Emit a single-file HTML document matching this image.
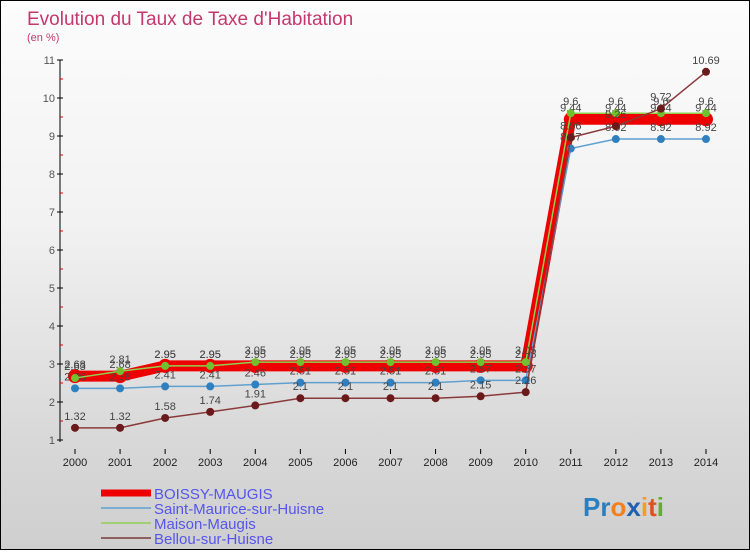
<!DOCTYPE html>
<html><head><meta charset="utf-8"><style>
body{margin:0;width:750px;height:550px;overflow:hidden;font-family:"Liberation Sans",sans-serif}
#wrap{position:relative;width:748px;height:548px;border:1px solid #000;background:linear-gradient(#fcfcfc 0%,#f2f2f2 40%,#d8d8d8 80%,#cfcfcf 100%)}
</style></head><body>
<div id="wrap">
<svg id="chart" width="748" height="548" xmlns="http://www.w3.org/2000/svg">
<text x="26" y="24" font-size="19" fill="#c4386c">Evolution du Taux de Taxe d'Habitation</text>
<text x="26" y="40" font-size="11" fill="#c4386c">(en %)</text>
<g id="axes"></g><g id="series"></g><g id="legend"></g>
<g font-size="26" font-weight="bold">
<text x="582" y="515"><tspan fill="#2a7fc0">Pr</tspan><tspan fill="#f08020">o</tspan><tspan fill="#2060b0">x</tspan><tspan fill="#f0a020">i</tspan><tspan fill="#e05020">t</tspan><tspan fill="#60b030">i</tspan></text>
</g>
</svg></div>
<script>
const years=[2000,2001,2002,2003,2004,2005,2006,2007,2008,2009,2010,2011,2012,2013,2014];
const yTicks=[1,2,3,4,5,6,7,8,9,10,11];
const boissy=[2.68,2.68,2.95,2.95,2.95,2.95,2.95,2.95,2.95,2.95,2.95,9.44,9.44,9.44,9.44];
const stMaurice=[2.36,2.36,2.41,2.41,2.46,2.51,2.51,2.51,2.51,2.57,2.57,8.67,8.92,8.92,8.92];
const maison=[2.63,2.81,2.95,2.95,3.05,3.05,3.05,3.05,3.05,3.05,3.05,9.6,9.6,9.6,9.6];
const bellou=[1.32,1.32,1.58,1.74,1.91,2.1,2.1,2.1,2.1,2.15,2.26,8.96,9.26,9.72,10.69];
const seriesNames=["BOISSY-MAUGIS","Saint-Maurice-sur-Huisne","Maison-Maugis","Bellou-sur-Huisne"];
const NS="http://www.w3.org/2000/svg";
function X(i){return 74+i*(705-74)/(years.length-1);}
function Y(v){return 439-(v-1)*38;}
function mk(t,a,p){const e=document.createElementNS(NS,t);for(const k in a)e.setAttribute(k,a[k]);p.appendChild(e);return e;}
const ax=document.getElementById('axes');
let l=mk('line',{x1:59,y1:Y(11),x2:59,y2:Y(1)+2,stroke:'#000'},ax);


yTicks.forEach(v=>{
 let t=mk('line',{x1:56,y1:Y(v),x2:62,y2:Y(v),stroke:'#000'},ax);
 
 
 if(v<11){let m=mk('line',{x1:59,y1:Y(v+0.5),x2:62,y2:Y(v+0.5),stroke:'#d00'},ax);
 
 }
 let tx=mk('text',{x:54,y:Y(v)+4,'font-size':11,fill:'#555','text-anchor':'end'},ax);tx.textContent=v;
 
 
});
years.forEach((yr,i)=>{
 let t=mk('line',{x1:X(i),y1:448,x2:X(i),y2:453,stroke:'#000'},ax);
 
 
 let tx=mk('text',{x:X(i),y:465,'font-size':11,fill:'#222','text-anchor':'middle'},ax);tx.textContent=yr;
 
 
});
const sg=document.getElementById('series');
const defs=[
 {d:boissy,c:'#ee0000',w:11,r:7,pc:'#ee0000',n:'boissy'},
 {d:stMaurice,c:'#5fa0d0',w:1.5,r:4,pc:'#2f80c0',n:'saint-maurice'},
 {d:maison,c:'#90d050',w:1.5,r:4,pc:'#70c030',n:'maison-maugis'},
 {d:bellou,c:'#8a3a3a',w:1.5,r:4,pc:'#6a1a1a',n:'bellou'}];
defs.forEach(s=>{
 const g=mk('g',{},sg);
 
 
 const p=mk('polyline',{points:s.d.map((v,i)=>X(i)+','+Y(v)).join(' '),fill:'none',stroke:s.c,'stroke-width':s.w},g);
 
 
 s.d.forEach((v,i)=>{
  const c=mk('circle',{cx:X(i),cy:Y(v),r:s.r,fill:s.pc},g);
  
  
  const t=mk('text',{x:X(i),y:Y(v)-8,'font-size':11,fill:'#444','text-anchor':'middle'},g);
  t.textContent=v;
  
  
 });
});
const lg=document.getElementById('legend');
const lc=['#ee0000','#7aaed0','#a0d070','#906060'],lw=[7,2,2,2];
seriesNames.forEach((n,i)=>{
 const y=492+i*15;
 const ln=mk('line',{x1:100,y1:y,x2:150,y2:y,stroke:lc[i],'stroke-width':lw[i]},lg);
 
 
 const t=mk('text',{x:153,y:y+6,'font-size':15,fill:'#5555ee'},lg);t.textContent=n;
 
 
});
</script>
</body></html>
